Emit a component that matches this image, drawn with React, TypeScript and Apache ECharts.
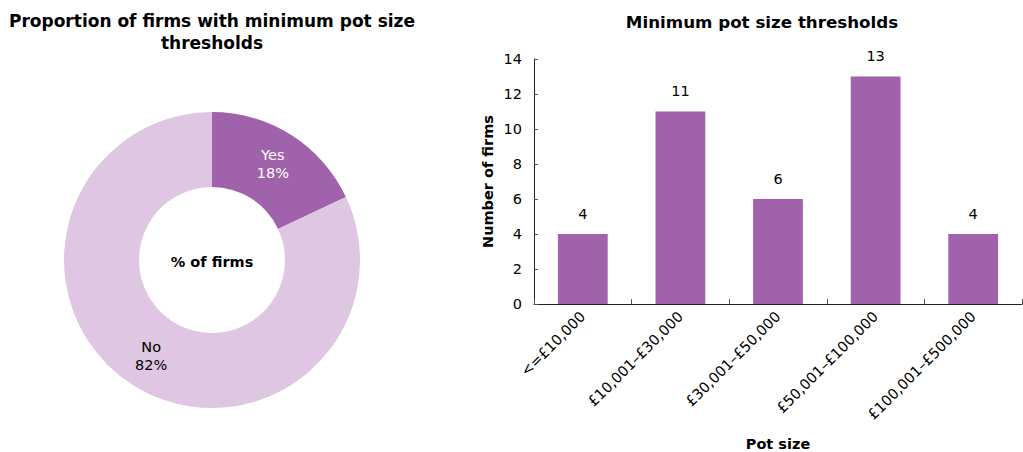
import React, { useEffect, useRef } from "react";
import * as echarts from "echarts";

const pieNames = ["Yes", "No"];
const pieValues = [18, 82];
const categories = ["<=£10,000", "£10,001–£30,000", "£30,001–£50,000", "£50,001–£100,000", "£100,001–£500,000"];
const barValues = [4, 11, 6, 13, 4];

const FONT = "DejaVu Sans";
const DARK = "#A062AA";
const LIGHT = "#DFC6E2";
const FS = 14.5;

export default function App() {
  const ref = useRef<HTMLDivElement>(null);
  useEffect(() => {
    const chart = echarts.init(ref.current!, null, { renderer: "svg" });
    chart.setOption({
      animation: false,
      textStyle: { fontFamily: FONT },
      title: [
        {
          text: "Proportion of firms with minimum pot size\nthresholds",
          left: 207,
          top: 5,
          textAlign: "center",
          textStyle: { fontFamily: FONT, fontSize: 17, fontWeight: "bold", color: "#000", lineHeight: 22 },
        },
        {
          text: "Minimum pot size thresholds",
          left: 757,
          top: 8,
          textAlign: "center",
          textStyle: { fontFamily: FONT, fontSize: 16.7, fontWeight: "bold", color: "#000" },
        },
      ],
      graphic: [
        {
          type: "text",
          x: 212,
          y: 262,
          style: {
            text: "% of firms",
            fontFamily: FONT,
            fontSize: FS,
            fontWeight: "bold",
            fill: "#000",
            align: "center",
            verticalAlign: "middle",
          },
        },
      ],
      grid: { left: 534, top: 59, width: 488, height: 245, containLabel: false, outerBoundsMode: "none" },
      xAxis: {
        type: "category",
        data: categories,
        axisLine: { lineStyle: { color: "#222", width: 1 } },
        axisTick: { show: true, inside: true, length: 5, alignWithLabel: false, lineStyle: { color: "#555" } },
        axisLabel: { rotate: 45, fontSize: FS, color: "#000", margin: 10, fontFamily: FONT, interval: 0 },
        name: "Pot size",
        nameLocation: "middle",
        nameGap: 132,
        nameTextStyle: { fontFamily: FONT, fontSize: FS, fontWeight: "bold", color: "#000" },
      },
      yAxis: {
        type: "value",
        min: 0,
        max: 14,
        interval: 2,
        splitLine: { show: false },
        axisLine: { show: true, lineStyle: { color: "#222", width: 1 } },
        axisTick: { show: true, inside: true, length: 4, lineStyle: { color: "#555" } },
        axisLabel: { fontSize: FS, color: "#000", margin: 12, fontFamily: FONT },
        name: "Number of firms",
        nameLocation: "middle",
        nameGap: 39,
        nameRotate: 90,
        nameTextStyle: { fontFamily: FONT, fontSize: FS, fontWeight: "bold", color: "#000" },
      },
      series: [
        {
          type: "pie",
          center: [212, 260],
          radius: [73, 148],
          startAngle: 90,
          clockwise: true,
          avoidLabelOverlap: false,
          data: pieNames.map((n, i) => ({
            name: n,
            value: pieValues[i],
            itemStyle: { color: i === 0 ? DARK : LIGHT },
            label: { color: i === 0 ? "#fff" : "#000" },
          })),
          label: {
            show: true,
            position: "inside",
            formatter: "{b}\n{d}%",
            fontSize: FS,
            fontFamily: FONT,
            lineHeight: 18,
          },
          labelLine: { show: false },
          emphasis: { disabled: true },
        },
        {
          type: "bar",
          data: barValues,
          barWidth: "51%",
          itemStyle: { color: DARK },
          label: { show: true, position: "top", distance: 13, fontSize: FS, color: "#000", fontFamily: FONT },
          emphasis: { disabled: true },
        },
      ],
    });
    return () => chart.dispose();
  }, []);
  return <div ref={ref} style={{ width: 1023, height: 452, position: "absolute", left: 0, top: 0 }} />;
}
